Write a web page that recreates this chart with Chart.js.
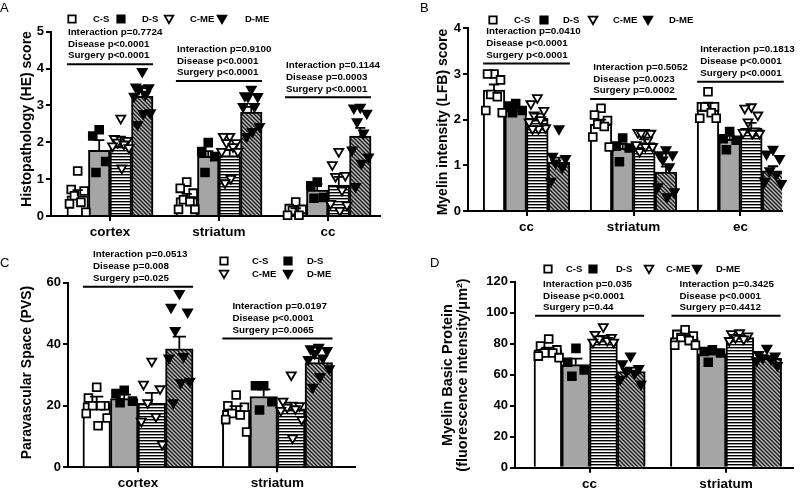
<!DOCTYPE html>
<html>
<head>
<meta charset="utf-8">
<script src="https://cdn.jsdelivr.net/npm/chart.js@4.4.1/dist/chart.umd.min.js"></script>
<style>
  body { margin: 0; background: #fff; width: 800px; height: 491px; position: relative; overflow: hidden; }
  .panel { position: absolute; }
  canvas { display: block; }
</style>
</head>
<body>
<div class="panel" style="left:0;top:0"><canvas id="chartA" width="400" height="245"></canvas></div>
<div class="panel" style="left:400px;top:0"><canvas id="chartB" width="400" height="245"></canvas></div>
<div class="panel" style="left:0;top:245px"><canvas id="chartC" width="400" height="246"></canvas></div>
<div class="panel" style="left:400px;top:245px"><canvas id="chartD" width="400" height="246"></canvas></div>
<script>
// 4 panels, grouped bars (mean + SEM) with individual points

const GROUPS = ['C-S', 'D-S', 'C-ME', 'D-ME'];

// ---- A: HE histopathology score
const regionsA = ['cortex', 'striatum', 'cc'];
const meanA_CS = [0.55, 0.5, 0.15];
const meanA_DS = [1.78, 1.62, 0.7];
const meanA_CME = [1.9, 1.64, 0.84];
const meanA_DME = [3.25, 2.82, 2.17];
const semA_CS = [0.15, 0.1, 0.06];
const semA_DS = [0.28, 0.14, 0.17];
const semA_CME = [0.25, 0.15, 0.22];
const semA_DME = [0.22, 0.14, 0.22];
const ptsA_CS = [[1.22, 0.72, 0.68, 0.55, 0.37, 0.33, 0.1], [0.92, 0.75, 0.62, 0.44, 0.39, 0.18, 0.18], [0.38, 0.2, 0.18, 0.15, 0.02, 0.02]];
const ptsA_DS = [[2.34, 2.17, 1.48, 1.18], [1.99, 1.75, 1.61, 1.18], [0.92, 0.82, 0.5, 0.48]];
const ptsA_CME = [[2.65, 2.1, 2.05, 2.0, 1.95, 1.9, 1.85, 1.3], [2.16, 2.16, 1.99, 1.99, 1.88, 1.75, 1.75, 1.02, 0.9], [1.75, 1.39, 1.1, 1.07, 0.7, 0.34, 0.3, 0.15]];
const ptsA_DME = [[3.92, 3.5, 3.48, 3.45, 3.3, 3.25, 2.8, 2.78, 2.48], [3.44, 3.26, 3.24, 3.24, 2.97, 2.97, 2.43, 2.29, 2.16], [2.95, 2.93, 2.79, 2.56, 2.25, 1.79, 1.6, 1.43, 0.8]];
const statsA = [
  ['Interaction p=0.7724', 'Disease p<0.0001', 'Surgery p<0.0001'],
  ['Interaction p=0.9100', 'Disease p<0.0001', 'Surgery p<0.0001'],
  ['Interaction p=0.1144', 'Disease p=0.0003', 'Surgery p<0.0001'],
];
const statLineA = [4.12, 3.66, 3.22];

// ---- B: LFB myelin intensity
const regionsB = ['cc', 'striatum', 'ec'];
const meanB_CS = [2.65, 1.9, 2.3];
const meanB_DS = [2.2, 1.37, 1.57];
const meanB_CME = [2.03, 1.5, 1.81];
const meanB_DME = [1.07, 0.85, 0.88];
const semB_CS = [0.12, 0.1, 0.07];
const semB_DS = [0.05, 0.1, 0.08];
const semB_CME = [0.1, 0.07, 0.12];
const semB_DME = [0.1, 0.12, 0.1];
const ptsB_CS = [[3.0, 3.0, 2.87, 2.55, 2.5, 2.2, 2.15], [2.25, 2.1, 1.98, 1.9, 1.85, 1.62, 1.4], [2.61, 2.28, 2.28, 2.28, 2.15, 2.03, 2.03]];
const ptsB_DS = [[2.35, 2.3, 2.2, 2.15], [1.6, 1.42, 1.38, 1.08], [1.74, 1.58, 1.55, 1.34]];
const ptsB_CME = [[2.48, 2.35, 2.2, 2.1, 2.0, 1.95, 1.82, 1.8, 1.8], [1.72, 1.72, 1.7, 1.7, 1.55, 1.45, 1.41, 1.41, 1.3], [2.28, 2.25, 2.1, 1.95, 1.75, 1.72, 1.7, 1.7]];
const ptsB_DME = [[1.8, 1.2, 1.15, 1.05, 0.95, 0.65], [1.34, 1.23, 1.23, 1.12, 0.97, 0.53, 0.42, 0.31], [1.35, 1.25, 1.15, 0.88, 0.8, 0.65, 0.6]];
const statsB = [
  ['Interaction p=0.0410', 'Disease p<0.0001', 'Surgery p<0.0001'],
  ['Interaction p=0.5052', 'Disease p=0.0023', 'Surgery p=0.0002'],
  ['Interaction p=0.1813', 'Disease p<0.0001', 'Surgery p<0.0001'],
];
const statLineB = [3.23, 2.45, 2.83];

// ---- C: paravascular space
const regionsC = ['cortex', 'striatum'];
const meanC_CS = [21, 18.5];
const meanC_DS = [22.3, 23];
const meanC_CME = [20.8, 19];
const meanC_DME = [38.5, 34];
const semC_CS = [2, 1.4];
const semC_DS = [1.3, 2.3];
const semC_CME = [3.4, 2];
const semC_DME = [4, 1.5];
const ptsC_CS = [[26, 22.5, 20, 20, 20, 17.5, 16, 13.5], [23.5, 20, 19.5, 17.5, 17, 15.5, 11.5]];
const ptsC_DS = [[25, 24, 21.5, 21], [26.5, 26.5, 21.3, 18.6]];
const ptsC_CME = [[34.5, 27, 25.5, 21, 16.5, 15, 7.5], [30, 21.5, 20, 19.5, 19, 18.5, 15.5, 9.5]];
const ptsC_DME = [[56.5, 52, 50.5, 44.5, 36, 35.5, 28, 27.5, 21], [39, 38.5, 38, 37, 35.5, 35, 32, 29.5, 26]];
const statsC = [
  ['Interaction p=0.0513', 'Disease p=0.008', 'Surgery p=0.025'],
  ['Interaction p=0.0197', 'Disease p<0.0001', 'Surgery p=0.0065'],
];
const statLineC = [58.7, 41.9];

// ---- D: myelin basic protein
const regionsD = ['cc', 'striatum'];
const meanD_CS = [76, 84];
const meanD_DS = [66.5, 73.5];
const meanD_CME = [83, 84];
const meanD_DME = [62, 70.5];
const semD_CS = [1.4, 1.5];
const semD_DS = [3.9, 1.8];
const semD_CME = [2, 1];
const semD_DME = [2.6, 1.4];
const ptsD_CS = [[83, 78.5, 76, 74, 74, 72, 71], [89, 86, 85, 84, 82, 79, 79]];
const ptsD_DS = [[77, 68, 63, 59], [76, 75, 74, 68]];
const ptsD_CME = [[91, 86, 84, 83, 82, 81, 81], [87, 86.5, 85, 84, 83, 82]];
const ptsD_DME = [[72, 67, 64, 62, 61, 57, 54], [77, 73, 72, 71, 70, 69, 66]];
const statsD = [
  ['Interaction p=0.035', 'Disease p<0.0001', 'Surgery p=0.44'],
  ['Interaction p=0.3425', 'Disease p<0.0001', 'Surgery p=0.4412'],
];
const statLineD = [98, 98];

const FONT = "'Liberation Sans', Arial, Helvetica, sans-serif";
const ROW_OFF = [-32, -20, -8.5];                 // stat text rows above the line
const JIT = [0, -0.3, 0.3, -0.15, 0.15, -0.38, 0.38, 0.05, -0.22, 0.22]; // spread of dots inside a bar

function stripes() {
  const c = document.createElement('canvas');
  c.width = 4; c.height = 3;
  const g = c.getContext('2d');
  g.fillStyle = '#fff'; g.fillRect(0, 0, 4, 3);
  g.fillStyle = '#000'; g.fillRect(0, 0, 4, 1.4);
  return g.createPattern(c, 'repeat');
}

function hatch() {
  const s = 4;
  const c = document.createElement('canvas');
  c.width = s; c.height = s;
  const g = c.getContext('2d');
  g.fillStyle = '#bdbdbd'; g.fillRect(0, 0, s, s);
  g.strokeStyle = '#1a1a1a'; g.lineWidth = 1.4;
  g.beginPath();
  g.moveTo(-1, -1); g.lineTo(s + 1, s + 1);
  g.moveTo(-1, s - 1); g.lineTo(1, s + 1);
  g.moveTo(s - 1, -1); g.lineTo(s + 1, 1);
  g.stroke();
  return g.createPattern(c, 'repeat');
}

const FILLS = ['#ffffff', '#a5a5a5', stripes(), hatch()];
const MARK = [
  { style: 'rect', r: 5.5, fill: '#fff' },
  { style: 'rect', r: 5.5, fill: '#000' },
  { style: 'triangle', r: 5.2, fill: '#fff' },
  { style: 'triangle', r: 5.2, fill: '#000' },
];

function drawMarker(ctx, j, x, y) {
  const m = MARK[j];
  ctx.save();
  ctx.fillStyle = m.fill; ctx.strokeStyle = '#000'; ctx.lineWidth = 1.8;
  ctx.beginPath();
  if (m.style === 'rect') {
    ctx.rect(x - 3.7, y - 3.7, 7.4, 7.4);
  } else {
    ctx.moveTo(x - 4.3, y - 3.3); ctx.lineTo(x + 4.3, y - 3.3); ctx.lineTo(x, y + 4.2); ctx.closePath();
  }
  ctx.fill(); ctx.stroke();
  ctx.restore();
}

function buildChart(p) {
  const canvas = document.getElementById(p.id);
  const L = p.layout;
  const W = canvas.width, H = canvas.height;
  const bw = L.catPct / GROUPS.length;
  const barX = (i, j) => i - L.catPct / 2 + (j + 0.5) * bw;
  const unitPx = (L.right - L.left) / (L.xMax - L.xMin);

  const barSets = p.means.map((m, j) => ({
    type: 'bar',
    label: GROUPS[j],
    data: m.map((v, i) => ({ x: i, y: v })),
    backgroundColor: FILLS[j],
    borderColor: '#000',
    borderWidth: 2,
    barThickness: bw * unitPx,
    order: 2,
  }));

  const dotSets = p.points.map((byRegion, j) => ({
    type: 'scatter',
    label: GROUPS[j] + ' pts',
    data: byRegion.flatMap((vals, i) => vals.map((v, k) => ({ x: barX(i, j) + JIT[k % JIT.length] * bw, y: v }))),
    pointStyle: MARK[j].style,
    rotation: MARK[j].style === 'triangle' ? 180 : 0,
    pointRadius: MARK[j].r,
    pointBackgroundColor: MARK[j].fill,
    pointBorderColor: '#000',
    pointBorderWidth: 1.8,
    showLine: false,
    clip: false,
    order: 1,
  }));

  const panelPlugin = {
    id: 'panelText',
    afterDatasetsDraw(chart) {
      const { ctx } = chart;
      const ys = chart.scales.y;
      ctx.save();
      ctx.strokeStyle = '#000';
      ctx.lineWidth = 1.8;
      p.means.forEach((m, j) => {
        const meta = chart.getDatasetMeta(j);
        meta.data.forEach((bar, i) => {
          const top = ys.getPixelForValue(m[i] + p.sems[j][i]);
          const half = bar.width * 0.24;
          ctx.beginPath();
          ctx.moveTo(bar.x, bar.y); ctx.lineTo(bar.x, top);
          ctx.moveTo(bar.x - half, top); ctx.lineTo(bar.x + half, top);
          ctx.stroke();
        });
      });
      ctx.restore();
    },
    afterDraw(chart) {
      const { ctx } = chart;
      const xs = chart.scales.x, ys = chart.scales.y;
      ctx.save();
      ctx.fillStyle = '#000';
      ctx.strokeStyle = '#000';

      // stats blocks
      ctx.font = `bold 9.8px ${FONT}`;
      ctx.textAlign = 'left';
      ctx.textBaseline = 'middle';
      p.stats.forEach((rows, i) => {
        const ly = ys.getPixelForValue(p.statLine[i]);
        const x0 = xs.getPixelForValue(i - L.catPct / 2);
        const x1 = xs.getPixelForValue(i + L.catPct / 2);
        rows.forEach((t, r) => ctx.fillText(t, x0 + L.indent, ly + ROW_OFF[r]));
        ctx.lineWidth = 2;
        ctx.beginPath(); ctx.moveTo(x0, ly); ctx.lineTo(x1, ly); ctx.stroke();
      });

      // legend
      L.legend.forEach(([mx, lx, ly], j) => {
        drawMarker(ctx, j, mx, ly);
        ctx.font = `bold 9.5px ${FONT}`;
        ctx.fillText(GROUPS[j], lx, ly);
      });

      // y title
      ctx.textAlign = 'center';
      ctx.font = `bold ${L.titleSize}px ${FONT}`;
      p.yTitle.forEach((t, k) => {
        ctx.save();
        ctx.translate(L.titleX[k], L.titleY);
        ctx.rotate(-Math.PI / 2);
        ctx.fillText(t, 0, 0);
        ctx.restore();
      });

      // panel letter
      ctx.textAlign = 'left';
      ctx.font = `13px ${FONT}`;
      ctx.fillText(p.letter, L.letter[0], L.letter[1]);
      ctx.restore();
    },
  };

  return new Chart(canvas, {
    type: 'bar',
    data: { datasets: [...barSets, ...dotSets] },
    options: {
      responsive: false,
      animation: false,
      layout: { padding: { left: 0, top: L.top, right: W - L.right, bottom: 0 } },
      plugins: { legend: { display: false }, tooltip: { enabled: false } },
      scales: {
        x: {
          type: 'linear',
          bounds: 'data',
          offset: false,
          min: L.xMin,
          max: L.xMax,
          z: 1,
          afterBuildTicks: s => { s.ticks = p.regions.map((_, i) => ({ value: i })); },
          afterFit: s => { s.height = H - L.bottom; },
          border: { color: '#000', width: 2 },
          grid: { display: true, offset: false, drawOnChartArea: false, drawTicks: true, tickLength: 5, color: '#000', lineWidth: 2 },
          ticks: {
            callback: v => p.regions[v] ?? '',
            color: '#000',
            font: { family: FONT, size: 13.5, weight: 'bold' },
            padding: 3,
            maxRotation: 0,
            autoSkip: false,
          },
        },
        y: {
          min: 0,
          max: p.yMax,
          z: 1,
          afterFit: s => { s.width = L.left; },
          border: { color: '#000', width: 2 },
          grid: { display: true, drawOnChartArea: false, drawTicks: true, tickLength: 5, color: '#000', lineWidth: 2 },
          ticks: {
            stepSize: p.yStep,
            color: '#000',
            font: { family: FONT, size: 13, weight: 'bold' },
            padding: 2,
          },
        },
      },
    },
    plugins: [panelPlugin],
  });
}

buildChart({
  id: 'chartA', letter: 'A', regions: regionsA,
  means: [meanA_CS, meanA_DS, meanA_CME, meanA_DME],
  sems: [semA_CS, semA_DS, semA_CME, semA_DME],
  points: [ptsA_CS, ptsA_DS, ptsA_CME, ptsA_DME],
  stats: statsA, statLine: statLineA,
  yMax: 5, yStep: 1, yTitle: ['Histopathology (HE) score'],
  layout: {
    left: 51, right: 380, top: 31.7, bottom: 216, xMin: -0.541, xMax: 2.477, catPct: 0.79, indent: 1,
    titleX: [27], titleY: 119, titleSize: 14, letter: [0, 8.5],
    legend: [[72, 93, 19], [121, 142, 19], [169, 190, 19], [222, 245, 19]],
  },
});

buildChart({
  id: 'chartB', letter: 'B', regions: regionsB,
  means: [meanB_CS, meanB_DS, meanB_CME, meanB_DME],
  sems: [semB_CS, semB_DS, semB_CME, semB_DME],
  points: [ptsB_CS, ptsB_DS, ptsB_CME, ptsB_DME],
  stats: statsB, statLine: statLineB,
  yMax: 4, yStep: 1, yTitle: ['Myelin intensity (LFB) score'],
  layout: {
    left: 68, right: 382, top: 28.3, bottom: 211, xMin: -0.547, xMax: 2.388, catPct: 0.81, indent: 3,
    titleX: [43], titleY: 122, titleSize: 14, letter: [20, 8],
    legend: [[93, 114, 20], [144, 163, 20], [193, 213, 20], [248, 269, 20]],
  },
});

buildChart({
  id: 'chartC', letter: 'C', regions: regionsC,
  means: [meanC_CS, meanC_DS, meanC_CME, meanC_DME],
  sems: [semC_CS, semC_DS, semC_CME, semC_DME],
  points: [ptsC_CS, ptsC_DS, ptsC_CME, ptsC_DME],
  stats: statsC, statLine: statLineC,
  yMax: 60, yStep: 20, yTitle: ['Paravascular Space (PVS)'],
  layout: {
    left: 68, right: 355, top: 37.7, bottom: 222.3, xMin: -0.502, xMax: 1.556, catPct: 0.79, indent: 10,
    titleX: [27], titleY: 127.5, titleSize: 14, letter: [0, 18],
    legend: [[224, 252, 16], [288, 307, 16], [224, 252, 29], [288, 307, 29]],
  },
});

buildChart({
  id: 'chartD', letter: 'D', regions: regionsD,
  means: [meanD_CS, meanD_DS, meanD_CME, meanD_DME],
  sems: [semD_CS, semD_DS, semD_CME, semD_DME],
  points: [ptsD_CS, ptsD_DS, ptsD_CME, ptsD_DME],
  stats: statsD, statLine: statLineD,
  yMax: 120, yStep: 20, yTitle: ['Myelin Basic Protein', '(fluorescence intensity/\u03bcm\u00b2)'],
  layout: {
    left: 115, right: 398, top: 36.7, bottom: 222.7, xMin: -0.547, xMax: 1.489, catPct: 0.8, indent: 8,
    titleX: [48, 63], titleY: 130, titleSize: 14.5, letter: [30, 18],
    legend: [[148, 166, 24], [193, 216, 24], [249, 266, 24], [297, 316, 24]],
  },
});
</script>
</body>
</html>
